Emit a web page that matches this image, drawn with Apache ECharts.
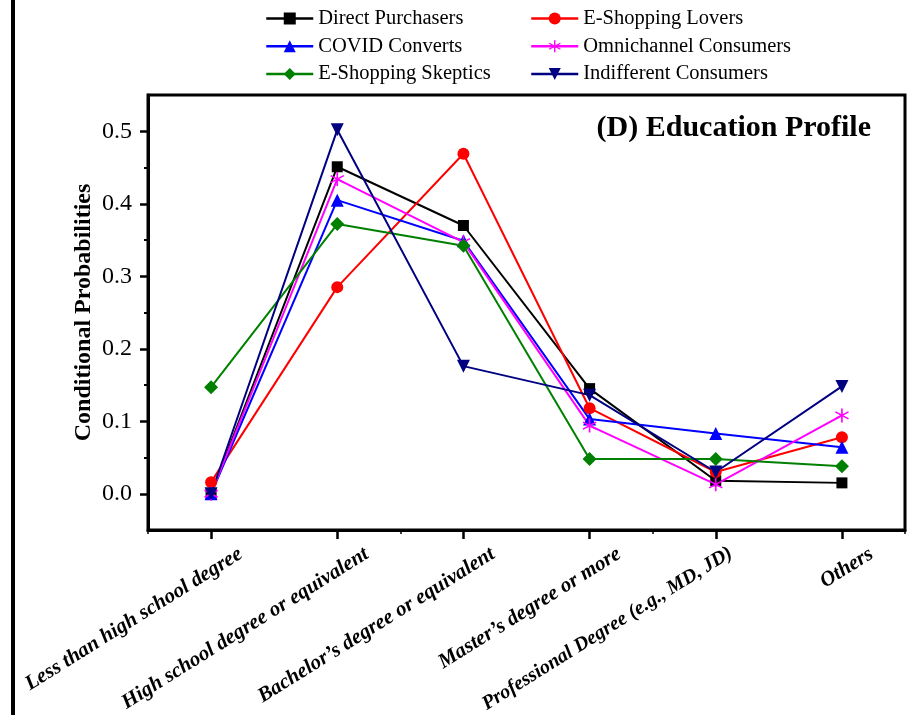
<!DOCTYPE html>
<html>
<head>
<meta charset="utf-8">
<script src="https://cdn.jsdelivr.net/npm/echarts@6/dist/echarts.min.js"></script>
<style>
html,body{margin:0;padding:0;background:#fff;}
#chart{width:917px;height:715px;}
</style>
</head>
<body>
<div id="chart"></div>
<script>
const categories = [
  "Less than high school degree",
  "High school degree or equivalent",
  "Bachelor\u2019s degree or equivalent",
  "Master\u2019s degree or more",
  "Professional Degree (e.g., MD, JD)",
  "Others"
];
const directPurchasers   = [0.000, 0.451, 0.370, 0.145, 0.018, 0.015];
const eShoppingLovers    = [0.016, 0.285, 0.469, 0.118, 0.030, 0.078];
const covidConverts      = [0.000, 0.405, 0.349, 0.103, 0.083, 0.064];
const omnichannel        = [0.000, 0.434, 0.347, 0.094, 0.013, 0.108];
const eShoppingSkeptics  = [0.147, 0.372, 0.342, 0.048, 0.048, 0.038];
const indifferent        = [0.000, 0.502, 0.176, 0.136, 0.030, 0.148];
const yMajorTicks = [0, 0.1, 0.2, 0.3, 0.4, 0.5];
const yMinorTicks = [0.05, 0.15, 0.25, 0.35, 0.45];

const FONT = '"Liberation Serif", "Times New Roman", serif';
const asterisk = 'path://M8.9 0 L11.1 0 L11.1 20 L8.9 20 Z M0.79 14.05 L18.11 4.05 L19.21 5.95 L1.89 15.95 Z M1.89 4.05 L19.21 14.05 L18.11 15.95 L0.79 5.95 Z';

function mk(name, data, color, symbol, size, rotate) {
  return {
    name: name, type: 'line', data: data,
    symbol: symbol, symbolSize: size, symbolRotate: rotate || 0,
    lineStyle: {color: color, width: 2},
    itemStyle: {color: color},
    emphasis: {disabled: true},
    animation: false,
    z: 3
  };
}

const labelBase = {fontFamily: FONT, fontWeight: 'bold', fontStyle: 'italic', fontSize: 21, lineHeight: 22, color: '#000'};
const xData = categories.map(function (c, i) {
  return i === 4 ? {value: c, textStyle: {fontSize: 20, verticalAlign: 'top', padding: [-19.5, -23, 0, 0]}} : c;
});

const legendBase = {
  orient: 'vertical', top: 8, padding: 0,
  itemWidth: 47, itemHeight: 15, itemGap: 6.7,
  lineStyle: {width: 2.5},
  textStyle: {fontFamily: FONT, fontSize: 20.5, color: '#000', lineHeight: 20},
  selectedMode: false
};

const chart = echarts.init(document.getElementById('chart'), null, {renderer: 'canvas'});
chart.setOption({
  backgroundColor: '#fff',
  animation: false,
  textStyle: {fontFamily: FONT},
  title: {
    text: '(D) Education Profile',
    right: 46, top: 113, padding: 0,
    textStyle: {fontFamily: FONT, fontWeight: 'bold', fontSize: 30, color: '#000'}
  },
  legend: [
    Object.assign({}, legendBase, {
      data: ['Direct Purchasers', 'COVID Converts', 'E-Shopping Skeptics'], left: 265
    }),
    Object.assign({}, legendBase, {
      data: ['E-Shopping Lovers', 'Omnichannel Consumers', 'Indifferent Consumers'], left: 530
    })
  ],
  grid: {
    left: 148, right: 12, top: 95, bottom: 185,
    containLabel: false, outerBoundsMode: 'none',
    show: true, borderColor: '#000', borderWidth: 3, backgroundColor: 'transparent'
  },
  xAxis: [
    {
      type: 'category', data: xData, boundaryGap: true,
      axisLine: {show: true, onZero: false, lineStyle: {color: '#000', width: 3}},
      axisTick: {show: true, alignWithLabel: true, length: 9, lineStyle: {color: '#000', width: 2.5}},
      axisLabel: Object.assign({interval: 0, rotate: 32, margin: 41, padding: [0, -35, 0, 0], hideOverlap: false}, labelBase),
      splitLine: {show: false}
    },
    {
      type: 'category', data: categories, boundaryGap: true, position: 'bottom',
      axisLine: {show: false, onZero: false},
      axisTick: {show: true, length: 4, lineStyle: {color: '#000', width: 1.5}},
      axisLabel: {show: false},
      splitLine: {show: false}
    }
  ],
  yAxis: [
    {
      type: 'value', min: -0.05, max: 0.55,
      name: 'Conditional Probabilities', nameLocation: 'middle', nameGap: 52, nameMoveOverlap: false,
      nameTextStyle: {fontFamily: FONT, fontWeight: 'bold', fontSize: 24, color: '#000'},
      axisLine: {show: true, onZero: false, lineStyle: {color: '#000', width: 3}},
      axisTick: {show: true, length: 8, customValues: yMajorTicks, lineStyle: {color: '#000', width: 2.5}},
      axisLabel: {
        customValues: yMajorTicks, margin: 16,
        formatter: function (v) { return Number(v).toFixed(1); },
        fontFamily: FONT, fontSize: 24, color: '#000'
      },
      splitLine: {show: false}
    },
    {
      type: 'value', min: -0.05, max: 0.55, position: 'left',
      axisLine: {show: false, onZero: false},
      axisTick: {show: true, length: 4, customValues: yMinorTicks, lineStyle: {color: '#000', width: 2}},
      axisLabel: {show: false},
      splitLine: {show: false}
    }
  ],
  graphic: [
    {type: 'rect', shape: {x: 11, y: 0, width: 4, height: 715}, style: {fill: '#000'}, silent: true}
  ],
  series: [
    mk('Direct Purchasers', directPurchasers, '#000000', 'rect', 11),
    mk('E-Shopping Lovers', eShoppingLovers, '#ff0000', 'circle', 12),
    mk('COVID Converts', covidConverts, '#0000ff', 'triangle', 13),
    mk('Omnichannel Consumers', omnichannel, '#ff00ff', asterisk, 14),
    mk('E-Shopping Skeptics', eShoppingSkeptics, '#008000', 'diamond', 14),
    mk('Indifferent Consumers', indifferent, '#000080', 'triangle', 13, 180)
  ]
});
</script>
</body>
</html>
